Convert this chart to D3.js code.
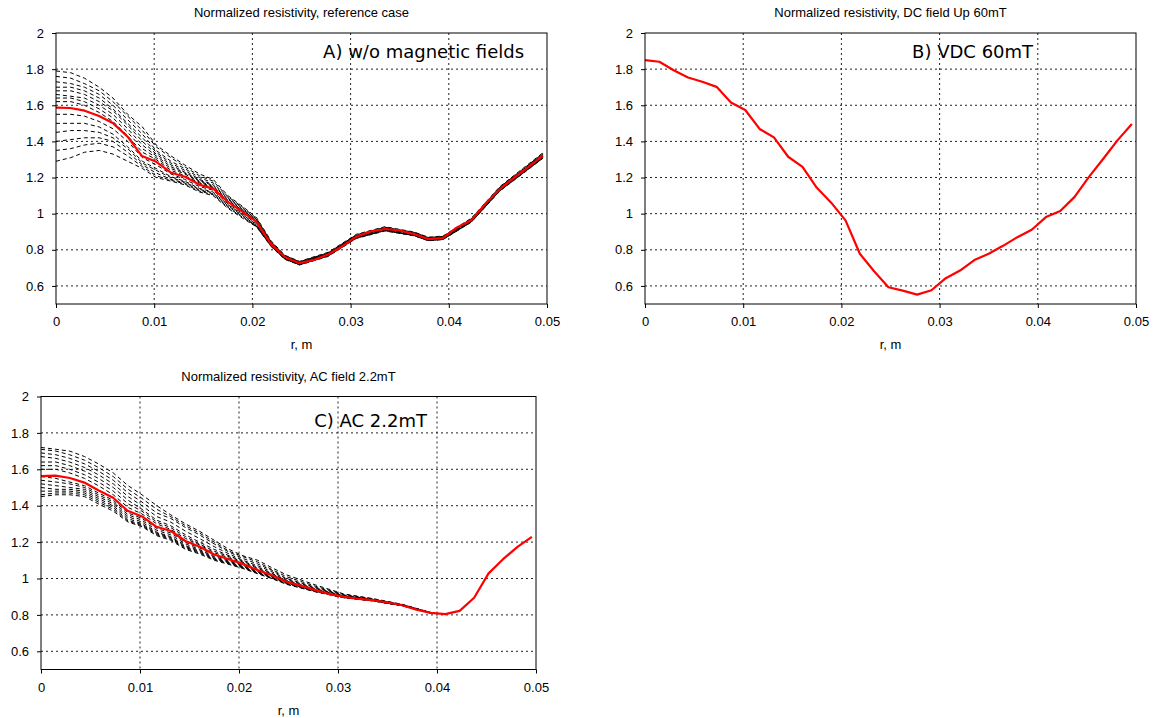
<!DOCTYPE html>
<html>
<head>
<meta charset="utf-8">
<script src="https://cdn.jsdelivr.net/npm/d3@7"></script>
<style>
  body { margin: 0; background: #fff; }
</style>
</head>
<body>
<div id="plot"></div>
<script>
const WIDTH = 1158;
const HEIGHT = 718;

// radial grid of the mean (red) profiles
const R = [0, 0.00146, 0.00292, 0.00438, 0.00583, 0.00729, 0.00875, 0.01021, 0.01167,
    0.01313, 0.01458, 0.01604, 0.0175, 0.01896, 0.02042, 0.02188, 0.02333, 0.02479,
    0.02625, 0.02771, 0.02917, 0.03063, 0.03208, 0.03354, 0.035, 0.03646, 0.03792,
    0.03938, 0.04083, 0.04229, 0.04375, 0.04521, 0.04667, 0.04813, 0.04958];

const RED_A = [1.587, 1.585, 1.570, 1.541, 1.500, 1.426, 1.319, 1.287, 1.228, 1.204,
    1.161, 1.137, 1.065, 1.011, 0.954, 0.833, 0.759, 0.726, 0.744, 0.774, 0.820, 0.874,
    0.902, 0.915, 0.907, 0.887, 0.859, 0.865, 0.924, 0.963, 1.056, 1.137, 1.200, 1.259, 1.322];

const RED_B = [1.850, 1.841, 1.794, 1.754, 1.730, 1.702, 1.615, 1.574, 1.469, 1.422,
    1.315, 1.259, 1.143, 1.061, 0.963, 0.778, 0.681, 0.593, 0.574, 0.552, 0.576, 0.643,
    0.685, 0.743, 0.778, 0.822, 0.870, 0.911, 0.981, 1.015, 1.093, 1.204, 1.304, 1.407, 1.496];

const RED_C = [1.563, 1.565, 1.552, 1.527, 1.484, 1.444, 1.372, 1.341, 1.284, 1.261,
    1.206, 1.174, 1.132, 1.106, 1.079, 1.046, 1.018, 0.982, 0.961, 0.936, 0.914, 0.899,
    0.888, 0.881, 0.868, 0.853, 0.829, 0.811, 0.804, 0.822, 0.894, 1.028, 1.106, 1.174, 1.229];

// individual runs (dashed), reference case
const ENS_R_A = [0, 0.0015, 0.0029, 0.0044, 0.0058, 0.0073, 0.0088, 0.0102, 0.0117, 0.0131,
    0.0146, 0.016, 0.0175, 0.019, 0.0204, 0.0219, 0.0233, 0.0248, 0.0277, 0.0306, 0.0335,
    0.0365, 0.0379, 0.0394, 0.0423, 0.0452, 0.0496];

const ENS_A = [
    [1.79, 1.78, 1.75, 1.70, 1.64, 1.55, 1.48, 1.38, 1.32, 1.27, 1.22, 1.19, 1.10, 1.04, 0.98, 0.85, 0.77, 0.736, 0.786, 0.886, 0.928, 0.898, 0.870, 0.876, 0.975, 1.150, 1.338],
    [1.76, 1.75, 1.72, 1.68, 1.62, 1.54, 1.46, 1.37, 1.31, 1.26, 1.21, 1.18, 1.095, 1.035, 0.975, 0.845, 0.768, 0.734, 0.783, 0.883, 0.925, 0.896, 0.868, 0.874, 0.972, 1.147, 1.334],
    [1.73, 1.72, 1.70, 1.66, 1.60, 1.52, 1.44, 1.35, 1.29, 1.25, 1.20, 1.17, 1.09, 1.03, 0.97, 0.842, 0.766, 0.732, 0.781, 0.881, 0.922, 0.894, 0.866, 0.872, 0.970, 1.145, 1.331],
    [1.70, 1.70, 1.68, 1.64, 1.58, 1.50, 1.42, 1.34, 1.28, 1.24, 1.19, 1.16, 1.085, 1.025, 0.967, 0.840, 0.764, 0.730, 0.779, 0.879, 0.920, 0.892, 0.864, 0.870, 0.968, 1.143, 1.328],
    [1.68, 1.68, 1.66, 1.62, 1.57, 1.49, 1.40, 1.33, 1.27, 1.23, 1.185, 1.155, 1.08, 1.02, 0.963, 0.838, 0.762, 0.729, 0.777, 0.877, 0.918, 0.890, 0.862, 0.868, 0.966, 1.141, 1.326],
    [1.66, 1.65, 1.64, 1.60, 1.55, 1.47, 1.38, 1.32, 1.26, 1.225, 1.18, 1.15, 1.075, 1.018, 0.960, 0.836, 0.761, 0.728, 0.776, 0.876, 0.917, 0.889, 0.861, 0.867, 0.965, 1.140, 1.325],
    [1.64, 1.64, 1.62, 1.58, 1.53, 1.45, 1.36, 1.31, 1.25, 1.22, 1.175, 1.145, 1.07, 1.015, 0.957, 0.835, 0.760, 0.727, 0.775, 0.875, 0.916, 0.888, 0.860, 0.866, 0.964, 1.139, 1.324],
    [1.62, 1.62, 1.60, 1.56, 1.51, 1.43, 1.34, 1.30, 1.24, 1.21, 1.17, 1.14, 1.065, 1.01, 0.953, 0.832, 0.758, 0.725, 0.773, 0.873, 0.914, 0.886, 0.858, 0.864, 0.962, 1.136, 1.320],
    [1.55, 1.55, 1.54, 1.51, 1.47, 1.40, 1.31, 1.27, 1.22, 1.19, 1.15, 1.13, 1.055, 1.00, 0.945, 0.828, 0.755, 0.722, 0.770, 0.870, 0.911, 0.883, 0.856, 0.862, 0.959, 1.133, 1.316],
    [1.50, 1.50, 1.50, 1.48, 1.44, 1.37, 1.29, 1.25, 1.205, 1.18, 1.14, 1.12, 1.05, 0.995, 0.940, 0.826, 0.753, 0.720, 0.768, 0.868, 0.909, 0.881, 0.854, 0.860, 0.957, 1.131, 1.313],
    [1.45, 1.46, 1.46, 1.45, 1.42, 1.36, 1.28, 1.24, 1.20, 1.175, 1.135, 1.115, 1.045, 0.99, 0.935, 0.824, 0.752, 0.719, 0.767, 0.867, 0.908, 0.880, 0.853, 0.859, 0.956, 1.130, 1.311],
    [1.40, 1.41, 1.42, 1.42, 1.40, 1.34, 1.27, 1.225, 1.19, 1.17, 1.13, 1.11, 1.04, 0.985, 0.932, 0.822, 0.750, 0.718, 0.766, 0.866, 0.907, 0.879, 0.852, 0.858, 0.955, 1.128, 1.310],
    [1.35, 1.36, 1.38, 1.39, 1.37, 1.32, 1.26, 1.21, 1.185, 1.165, 1.125, 1.105, 1.035, 0.98, 0.930, 0.820, 0.749, 0.717, 0.765, 0.865, 0.906, 0.878, 0.851, 0.857, 0.954, 1.127, 1.308],
    [1.29, 1.31, 1.34, 1.35, 1.33, 1.29, 1.25, 1.20, 1.18, 1.16, 1.12, 1.10, 1.03, 0.975, 0.928, 0.818, 0.747, 0.716, 0.763, 0.863, 0.904, 0.877, 0.850, 0.856, 0.953, 1.125, 1.307]
];

// individual runs (dashed), AC field
const ENS_R_C = [0, 0.0015, 0.0029, 0.0044, 0.0058, 0.0073, 0.0088, 0.0102, 0.0117, 0.0131,
    0.0146, 0.016, 0.0175, 0.019, 0.0204, 0.0219, 0.0233, 0.0248, 0.0277, 0.0306, 0.0335,
    0.0365, 0.0394];

const ENS_C = [
    [1.72, 1.71, 1.70, 1.67, 1.63, 1.58, 1.51, 1.46, 1.40, 1.35, 1.30, 1.26, 1.21, 1.16, 1.125, 1.10, 1.06, 1.02, 0.965, 0.915, 0.890, 0.858, 0.813],
    [1.71, 1.70, 1.68, 1.65, 1.61, 1.56, 1.49, 1.44, 1.38, 1.34, 1.29, 1.25, 1.20, 1.15, 1.12, 1.09, 1.05, 1.01, 0.958, 0.912, 0.888, 0.857, 0.812],
    [1.69, 1.68, 1.66, 1.63, 1.59, 1.54, 1.47, 1.42, 1.36, 1.33, 1.28, 1.24, 1.19, 1.145, 1.11, 1.08, 1.045, 1.00, 0.952, 0.909, 0.886, 0.856, 0.812],
    [1.67, 1.66, 1.64, 1.61, 1.57, 1.52, 1.45, 1.40, 1.34, 1.31, 1.26, 1.22, 1.175, 1.135, 1.10, 1.07, 1.038, 0.995, 0.948, 0.906, 0.885, 0.855, 0.811],
    [1.64, 1.64, 1.62, 1.59, 1.55, 1.50, 1.43, 1.38, 1.32, 1.29, 1.24, 1.20, 1.16, 1.125, 1.095, 1.062, 1.03, 0.99, 0.944, 0.904, 0.884, 0.854, 0.811],
    [1.62, 1.62, 1.60, 1.57, 1.53, 1.48, 1.41, 1.37, 1.31, 1.28, 1.23, 1.19, 1.15, 1.12, 1.09, 1.056, 1.026, 0.987, 0.941, 0.902, 0.883, 0.854, 0.811],
    [1.60, 1.60, 1.58, 1.55, 1.51, 1.46, 1.39, 1.355, 1.30, 1.27, 1.22, 1.185, 1.142, 1.113, 1.085, 1.05, 1.022, 0.985, 0.939, 0.901, 0.882, 0.853, 0.811],
    [1.56, 1.55, 1.53, 1.51, 1.47, 1.43, 1.36, 1.33, 1.275, 1.25, 1.198, 1.168, 1.127, 1.10, 1.074, 1.042, 1.014, 0.979, 0.934, 0.898, 0.880, 0.852, 0.810],
    [1.54, 1.53, 1.52, 1.50, 1.46, 1.42, 1.35, 1.32, 1.265, 1.24, 1.19, 1.16, 1.12, 1.095, 1.07, 1.038, 1.01, 0.976, 0.932, 0.897, 0.879, 0.852, 0.810],
    [1.52, 1.51, 1.50, 1.49, 1.45, 1.41, 1.34, 1.31, 1.255, 1.23, 1.18, 1.155, 1.115, 1.09, 1.066, 1.035, 1.008, 0.975, 0.931, 0.896, 0.879, 0.851, 0.810],
    [1.50, 1.49, 1.49, 1.48, 1.44, 1.40, 1.33, 1.30, 1.25, 1.225, 1.175, 1.15, 1.11, 1.087, 1.063, 1.032, 1.006, 0.973, 0.930, 0.896, 0.878, 0.851, 0.810],
    [1.48, 1.48, 1.48, 1.47, 1.43, 1.39, 1.32, 1.295, 1.245, 1.22, 1.17, 1.145, 1.107, 1.084, 1.06, 1.03, 1.004, 0.972, 0.929, 0.895, 0.878, 0.851, 0.810],
    [1.46, 1.47, 1.47, 1.46, 1.42, 1.38, 1.315, 1.29, 1.24, 1.215, 1.165, 1.14, 1.104, 1.08, 1.058, 1.028, 1.002, 0.970, 0.928, 0.895, 0.877, 0.850, 0.810],
    [1.45, 1.46, 1.46, 1.45, 1.41, 1.37, 1.31, 1.285, 1.235, 1.21, 1.16, 1.135, 1.10, 1.077, 1.055, 1.026, 1.00, 0.968, 0.927, 0.894, 0.877, 0.850, 0.810]
];

const X_TICKS = [0, 0.01, 0.02, 0.03, 0.04, 0.05];
const Y_TICKS = [0.6, 0.8, 1, 1.2, 1.4, 1.6, 1.8, 2];
const X_LABEL = 'r, m';

const TITLES = [
    'Normalized resistivity, reference case',
    'Normalized resistivity, DC field Up 60mT',
    'Normalized resistivity, AC field 2.2mT'
];
const TAGS = ['A) w/o magnetic fields', 'B) VDC 60mT', 'C) AC 2.2mT'];

const SANS = '"Liberation Sans", Arial, sans-serif';


var svg = d3.select('#plot')
    .append('svg')
    .attr('width', WIDTH)
    .attr('height', HEIGHT);

svg.append('rect')
    .attr('width', WIDTH)
    .attr('height', HEIGHT)
    .attr('fill', '#fff');


function draw_panel(opts) {
    let x = d3.scaleLinear().domain([0, 0.05]).range([opts.left, opts.right]);
    let y = d3.scaleLinear().domain([0.5, 2]).range([opts.bottom, opts.top]);
    let g = svg.append('g');

    // dotted grid
    g.selectAll('line.gx')
        .data(X_TICKS.slice(1, -1))
        .enter()
        .append('line')
        .attr('x1', d => x(d)).attr('x2', d => x(d))
        .attr('y1', opts.top).attr('y2', opts.bottom)
        .attr('stroke', '#222')
        .attr('stroke-width', 1)
        .attr('stroke-dasharray', '2,3');

    g.selectAll('line.gy')
        .data(Y_TICKS.slice(0, -1))
        .enter()
        .append('line')
        .attr('x1', opts.left).attr('x2', opts.right)
        .attr('y1', d => y(d)).attr('y2', d => y(d))
        .attr('stroke', '#222')
        .attr('stroke-width', 1)
        .attr('stroke-dasharray', '2,3');

    // dashed ensemble members
    if (opts.ens) {
        let ensLine = d3.line()
            .x((d, i) => x(opts.ensR[i]))
            .y(d => y(d));
        g.selectAll('path.ens')
            .data(opts.ens)
            .enter()
            .append('path')
            .attr('d', ensLine)
            .attr('fill', 'none')
            .attr('stroke', '#000')
            .attr('stroke-width', 1)
            .attr('stroke-dasharray', '4,3');
    }

    // mean profile
    let redLine = d3.line()
        .x((d, i) => x(R[i]))
        .y(d => y(d));
    g.append('path')
        .datum(opts.red)
        .attr('d', redLine)
        .attr('fill', 'none')
        .attr('stroke', '#ff0000')
        .attr('stroke-width', 2.2)
        .attr('stroke-linejoin', 'round');

    // frame
    g.append('rect')
        .attr('x', opts.left).attr('y', opts.top)
        .attr('width', opts.right - opts.left)
        .attr('height', opts.bottom - opts.top)
        .attr('fill', 'none')
        .attr('stroke', '#000')
        .attr('stroke-width', 1);

    let xAxis = d3.axisBottom(x)
        .tickValues(X_TICKS)
        .tickSize(4)
        .tickPadding(9)
        .tickFormat(d => String(d));
    let yAxis = d3.axisLeft(y)
        .tickValues(Y_TICKS)
        .tickSize(4)
        .tickPadding(8)
        .tickFormat(d => String(d));

    g.append('g')
        .attr('transform', `translate(0,${opts.bottom})`)
        .call(xAxis)
        .call(a => a.select('.domain').remove());
    g.append('g')
        .attr('transform', `translate(${opts.left},0)`)
        .call(yAxis)
        .call(a => a.select('.domain').remove());

    g.selectAll('.tick text')
        .attr('font-family', SANS)
        .attr('font-size', 13)
        .attr('fill', '#000');

    g.append('text')
        .attr('x', (opts.left + opts.right) / 2)
        .attr('y', opts.top - 16)
        .attr('text-anchor', 'middle')
        .attr('font-family', SANS)
        .attr('font-size', 13)
        .text(opts.title);

    g.append('text')
        .attr('x', (opts.left + opts.right) / 2)
        .attr('y', opts.bottom + 45)
        .attr('text-anchor', 'middle')
        .attr('font-family', SANS)
        .attr('font-size', 13)
        .text(X_LABEL);

    g.append('text')
        .attr('x', x(opts.tagAt[0]))
        .attr('y', y(opts.tagAt[1]))
        .attr('font-family', '"DejaVu Sans", sans-serif')
        .attr('font-size', 18)
        .text(opts.tag);
}


draw_panel({
    left: 56, right: 547, top: 33, bottom: 304,
    red: RED_A, ens: ENS_A, ensR: ENS_R_A,
    title: TITLES[0], tag: TAGS[0], tagAt: [0.0272, 1.864]
});

draw_panel({
    left: 645, right: 1136, top: 33, bottom: 304,
    red: RED_B, ens: null, ensR: null,
    title: TITLES[1], tag: TAGS[1], tagAt: [0.0272, 1.864]
});

draw_panel({
    left: 41, right: 536, top: 396.5, bottom: 669.5,
    red: RED_C, ens: ENS_C, ensR: ENS_R_C,
    title: TITLES[2], tag: TAGS[2], tagAt: [0.0276, 1.835]
});
</script>
</body>
</html>
